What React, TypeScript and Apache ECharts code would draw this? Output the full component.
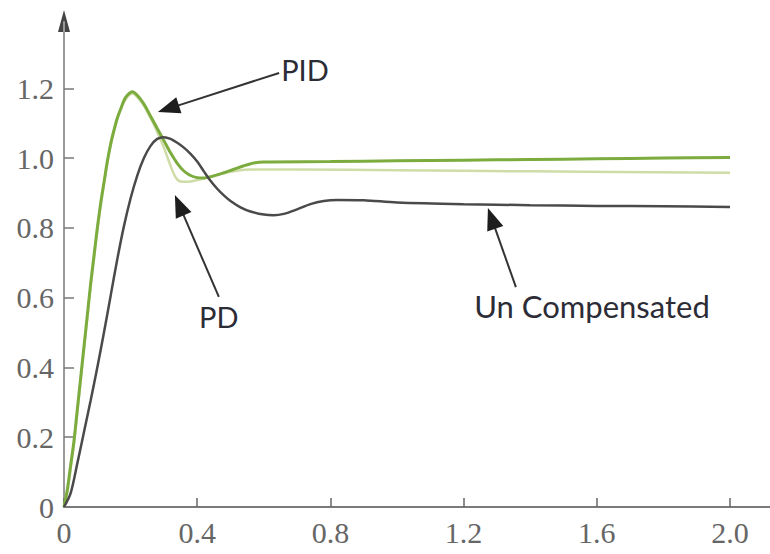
import React, { useEffect, useRef } from "react";
import * as echarts from "echarts";

// x-axis (time) tick labels and y-axis tick labels
const xTickValues = [0, 0.4, 0.8, 1.2, 1.6, 2.0];
const yTickValues = [0, 0.2, 0.4, 0.6, 0.8, 1.0, 1.2];

// PID response
const pidT = [0, 0.01, 0.02, 0.03, 0.04, 0.05, 0.06, 0.07, 0.08, 0.09, 0.1, 0.11, 0.12, 0.13, 0.14, 0.15, 0.16, 0.17, 0.18, 0.19, 0.205, 0.22, 0.24, 0.26, 0.28, 0.3, 0.32, 0.34, 0.36, 0.38, 0.4, 0.42, 0.45, 0.48, 0.51, 0.54, 0.57, 0.6, 0.8, 1.0, 1.2, 1.4, 1.6, 1.8, 2.0];
const pidV = [0, 0.05, 0.12, 0.19, 0.28, 0.37, 0.46, 0.55, 0.64, 0.72, 0.8, 0.87, 0.93, 0.99, 1.04, 1.08, 1.115, 1.14, 1.165, 1.18, 1.19, 1.18, 1.155, 1.12, 1.085, 1.05, 1.015, 0.985, 0.963, 0.95, 0.944, 0.943, 0.949, 0.958, 0.968, 0.978, 0.986, 0.989, 0.99, 0.992, 0.994, 0.996, 0.998, 1.0, 1.002];

// PD response
const pdT = [0, 0.01, 0.02, 0.03, 0.04, 0.05, 0.06, 0.07, 0.08, 0.09, 0.1, 0.11, 0.12, 0.13, 0.14, 0.15, 0.16, 0.17, 0.18, 0.19, 0.205, 0.22, 0.24, 0.26, 0.28, 0.3, 0.32, 0.335, 0.35, 0.37, 0.4, 0.44, 0.48, 0.52, 0.56, 0.7, 1.0, 1.4, 2.0];
const pdV = [0, 0.04, 0.11, 0.18, 0.27, 0.36, 0.45, 0.54, 0.63, 0.71, 0.79, 0.86, 0.925, 0.985, 1.035, 1.075, 1.11, 1.14, 1.16, 1.175, 1.185, 1.175, 1.15, 1.115, 1.075, 1.03, 0.978, 0.945, 0.933, 0.932, 0.937, 0.947, 0.957, 0.964, 0.967, 0.967, 0.965, 0.962, 0.958];

// Uncompensated response
const ucT = [0, 0.02, 0.04, 0.06, 0.08, 0.1, 0.12, 0.14, 0.16, 0.18, 0.2, 0.22, 0.24, 0.26, 0.28, 0.3, 0.32, 0.34, 0.36, 0.38, 0.4, 0.42, 0.44, 0.46, 0.48, 0.5, 0.53, 0.56, 0.6, 0.63, 0.66, 0.7, 0.74, 0.78, 0.82, 0.9, 1.0, 1.2, 1.4, 1.6, 1.8, 2.0];
const ucV = [0, 0.04, 0.125, 0.215, 0.305, 0.4, 0.5, 0.605, 0.71, 0.805, 0.885, 0.95, 1.0, 1.035, 1.055, 1.06, 1.055, 1.044, 1.03, 1.012, 0.99, 0.962, 0.935, 0.912, 0.893, 0.877, 0.859, 0.847, 0.838, 0.836, 0.84, 0.853, 0.868, 0.877, 0.88, 0.879, 0.873, 0.868, 0.865, 0.863, 0.862, 0.86];

// annotation labels (text, anchor in data units) and arrows (tail -> tip in data units)
const annotationTexts = ["PID", "PD", "Un Compensated"];
const annotationAnchors: [number, number][] = [[0.652, 1.255], [0.465, 0.547], [1.232, 0.576]];
const annotationAlign = ["left", "center", "left"];
const arrowTails: [number, number][] = [[0.646, 1.244], [0.465, 0.602], [1.357, 0.63]];
const arrowTips: [number, number][] = [[0.282, 1.132], [0.333, 0.894], [1.273, 0.857]];

const zip = (t: number[], v: number[]) => t.map((x, i) => [x, v[i]]);
const fmt = (v: number) => (v === 0 ? "0" : v.toFixed(1));

export default function App() {
  const ref = useRef<HTMLDivElement>(null);
  useEffect(() => {
    if (!ref.current) return;
    const chart = echarts.init(ref.current, null, { renderer: "svg" });
    const axisFont = { fontFamily: "Liberation Serif", fontSize: 30, color: "#666" };
    chart.setOption({
      animation: false,
      backgroundColor: "#fff",
      grid: { left: 64, right: 0, top: 22, bottom: 47 },
      xAxis: {
        type: "value",
        min: 0,
        max: 2.12,
        interval: 0.4,
        splitLine: { show: false },
        axisLine: { onZero: false, lineStyle: { color: "#7a7a7a", width: 2 } },
        axisTick: { inside: true, length: 9, customValues: xTickValues, lineStyle: { color: "#666", width: 1.5 } },
        axisLabel: { ...axisFont, margin: 10, customValues: xTickValues, formatter: fmt },
      },
      yAxis: {
        type: "value",
        min: 0,
        max: 1.39,
        interval: 0.2,
        splitLine: { show: false },
        axisLine: { onZero: false, lineStyle: { color: "#9a9a9a", width: 2 } },
        axisTick: { inside: true, length: 10, customValues: yTickValues.slice(1), lineStyle: { color: "#777", width: 1.5 } },
        axisLabel: { ...axisFont, margin: 10, customValues: yTickValues, formatter: fmt },
      },
      series: [
        {
          name: "PD",
          type: "line",
          data: zip(pdT, pdV),
          smooth: 0.3,
          showSymbol: false,
          lineStyle: { color: "#cfdca8", width: 2.5 },
        },
        {
          name: "PID",
          type: "line",
          data: zip(pidT, pidV),
          smooth: 0.3,
          showSymbol: false,
          lineStyle: { color: "#7cab3e", width: 3 },
        },
        {
          name: "Un Compensated",
          type: "line",
          data: zip(ucT, ucV),
          smooth: 0.3,
          showSymbol: false,
          lineStyle: { color: "#4a4a4a", width: 2.5 },
        },
      ],
    });

    const px = (p: [number, number]) => chart.convertToPixel({ gridIndex: 0 }, p) as number[];
    const elements: any[] = [];
    arrowTails.forEach((tail, i) => {
      const a = px(tail);
      const b = px(arrowTips[i]);
      const dx = b[0] - a[0];
      const dy = b[1] - a[1];
      const len = Math.hypot(dx, dy);
      const ux = dx / len;
      const uy = dy / len;
      const headLen = 22;
      const halfW = 8.5;
      const bx = b[0] - ux * headLen;
      const by = b[1] - uy * headLen;
      elements.push({
        type: "line",
        shape: { x1: a[0], y1: a[1], x2: bx + ux * 2, y2: by + uy * 2 },
        style: { stroke: "#333", lineWidth: 2 },
      });
      elements.push({
        type: "polygon",
        shape: {
          points: [
            [b[0], b[1]],
            [bx - uy * halfW, by + ux * halfW],
            [bx + uy * halfW, by - ux * halfW],
          ],
        },
        style: { fill: "#1e1e1e" },
      });
    });
    annotationTexts.forEach((t, i) => {
      const p = px(annotationAnchors[i]);
      elements.push({
        type: "text",
        x: p[0],
        y: p[1],
        style: {
          text: t,
          fontFamily: "Lato",
          fontSize: i === 2 ? 31 : 29,
          fill: "#2c2c36",
          align: annotationAlign[i],
          verticalAlign: "middle",
        },
      });
    });
    // y-axis arrow head
    const top = px([0, 1.39]);
    elements.push({
      type: "polygon",
      shape: {
        points: [
          [top[0], top[1] - 12],
          [top[0] - 6, top[1] + 10],
          [top[0] + 6, top[1] + 10],
        ],
      },
      style: { fill: "#444" },
    });
    chart.setOption({ graphic: { elements } });

    return () => chart.dispose();
  }, []);
  return <div ref={ref} style={{ position: "fixed", left: 0, top: 0, width: 770, height: 554 }} />;
}
